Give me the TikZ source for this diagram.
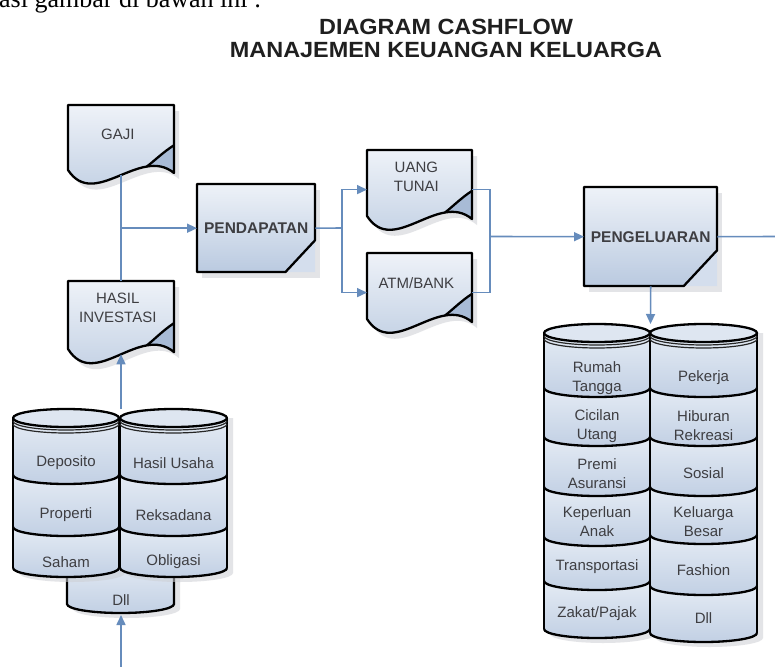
\documentclass[tikz,border=0pt]{standalone}
\usepackage{fontspec}
\setmainfont{Liberation Sans}
\newfontfamily\introfont{Liberation Serif}
\usetikzlibrary{arrows.meta,calc}
\definecolor{connc}{RGB}{102,140,188}
\definecolor{boxtop}{RGB}{238,242,248}
\definecolor{boxbot}{RGB}{186,202,224}
\definecolor{segtop}{RGB}{228,235,244}
\definecolor{segbot}{RGB}{194,208,228}
\definecolor{topc}{RGB}{222,230,241}
\definecolor{foldc}{RGB}{168,187,214}
\definecolor{cornerc}{RGB}{212,222,237}
\definecolor{txtc}{RGB}{62,62,66}
\definecolor{shadc}{RGB}{205,207,212}
\tikzset{
  edge/.style={draw=black, line width=2.3pt, line join=round},
  rim/.style={draw=black!85, line width=1.2pt},
  conn/.style={draw=connc, line width=1.6pt},
  arr/.style={conn, -{Triangle[length=10pt,width=9pt]}},
  lbl/.style={font=\fontsize{15}{19}\selectfont, text=txtc, align=center, inner sep=0pt},
  blbl/.style={font=\fontsize{15.5}{19}\selectfont\bfseries, text=txtc, align=center, inner sep=0pt},
  boxfill/.style={top color=boxtop, bottom color=boxbot},
  segfill/.style={top color=segtop, bottom color=segbot},
  shadowfill/.style={fill=shadc, opacity=0.55},
  titlestyle/.style={font=\fontsize{22}{26}\selectfont\bfseries, text=black!88, inner sep=0pt, anchor=base},
}
\newcommand\docpath{(0,0) -- (1,0) -- (1,-1.046) .. controls (0.68,-0.62) and (0.25,-1.62) .. (0,-1) -- cycle}
\newcommand\docfold{(1,-0.62) .. controls (0.9,-0.72) and (0.8,-0.88) .. (0.744,-0.946) .. controls (0.833,-0.922) and (0.92,-0.94) .. (1,-1.046) -- cycle}
% #1 name, #2 L, #3 T, #4 w, #5 h, #6 text v, #7 text
\newcommand\docshape[7]{%
  \begin{scope}[shift={({#2+5},{-#3-6})}, xscale=#4, yscale=#5]
    \fill[shadowfill] \docpath;
  \end{scope}
  \begin{scope}[shift={(#2,-#3)}, xscale=#4, yscale=#5]
    \shade[boxfill] \docpath;
    \fill[foldc] \docfold;
    \draw[edge] \docpath;
    \draw[edge] (1,-0.62) .. controls (0.9,-0.72) and (0.8,-0.88) .. (0.744,-0.946);
    \node[lbl] (#1) at (0.47,-#6) {#7};
    \coordinate (#1-w) at (0,-0.6);
    \coordinate (#1-e) at (1,-0.6);
    \coordinate (#1-t) at (0.5,0);
    \coordinate (#1-b) at (0.5,-1.078);
  \end{scope}}
% #1 name, #2 L, #3 T, #4 w, #5 h, #6 text
\newcommand\procbox[6]{%
  \fill[shadowfill] ({#2+5},{-#3-6}) rectangle ++(#4,-#5);
  \begin{scope}[shift={(#2,-#3)}, xscale=#4, yscale=#5]
    \shade[boxfill] (0,0) -- (1,0) -- (1,-0.64) -- (0.75,-1) -- (0,-1) -- cycle;
    \fill[cornerc] (1,-0.64) -- (1,-1) -- (0.75,-1) -- cycle;
    \draw[edge] (1,-0.64) -- (1,0) -- (0,0) -- (0,-1) -- (0.75,-1) -- cycle;
  \end{scope}
  \node[blbl, minimum width=#4pt, minimum height=#5pt, anchor=north west] (#1) at (#2,-#3) {#6};}
% #1 x0, #2 x1, #3 yc, #4 bottoms, #5 last bottom
\newcommand\cylcol[5]{%
  \pgfmathsetmacro\crx{(#2-#1)/2}
  \pgfmathsetmacro\ccx{(#2+#1)/2}
  \fill[shadowfill] ({#1+6},{-#3}) -- ({#1+6},{-(#5-9)-5}) arc[start angle=180,end angle=360,x radius=\crx,y radius=9] -- ({#2+6},{-#3}) -- cycle;
  \foreach \b [remember=\b as \bp (initially #3+9)] in {#4} {
    \shade[segfill] ({#1},{-(\bp-9)}) arc[start angle=180,end angle=360,x radius=\crx,y radius=9]
      -- ({#2},{-(\b-9)}) arc[start angle=0,end angle=-180,x radius=\crx,y radius=9] -- cycle;
  }
  \fill[topc] (\ccx,-#3) ellipse[x radius=\crx, y radius=9];
  \foreach \b in {#4} {
    \draw[edge] ({#1},{-(\b-9)}) arc[start angle=180,end angle=360,x radius=\crx,y radius=9];
  }
  \draw[edge] ({#1},{-#3}) -- ({#1},{-(#5-9)});
  \draw[edge] ({#2},{-#3}) -- ({#2},{-(#5-9)});
  \draw[edge] (\ccx,-#3) ellipse[x radius=\crx, y radius=9];
  \draw[rim] ({#1},{-(#3+3)}) arc[start angle=180,end angle=360,x radius=\crx,y radius=9];
  \draw[rim] ({#1},{-(#3+6)}) arc[start angle=180,end angle=360,x radius=\crx,y radius=9];
}
\begin{document}
\begin{tikzpicture}[x=1pt,y=1pt]
\useasboundingbox (0,0) rectangle (775,-666);
\clip (0,0) rectangle (775,-666);
\fill[white] (0,0) rectangle (775,-666);

% intro text (cut off at the top)
\node[anchor=base west, inner sep=0pt, font=\introfont\fontsize{26}{30}\selectfont] (intro) at (-1,-8) {asi gambar di bawah ini :};

% title
\node[titlestyle] (title1) at (446,-35) {\scalebox{1.065}[1]{DIAGRAM CASHFLOW}};
\node[titlestyle] (title2) at (446,-58) {\scalebox{1.065}[1]{MANAJEMEN KEUANGAN KELUARGA}};

% documents
\docshape{gaji}{68}{105}{106}{65}{0.45}{GAJI}
\docshape{hasil}{68}{281}{106}{68}{0.40}{HASIL\\INVESTASI}
\docshape{uang}{367}{150}{105}{66}{0.41}{UANG\\TUNAI}
\docshape{atm}{367}{253}{105}{66}{0.45}{ATM/BANK}

% process boxes
\procbox{pend}{197}{184}{118}{88}{PENDAPATAN}
\procbox{peng}{584}{187}{133}{99}{PENGELUARAN}

% left cylinders
\fill[shadowfill] (73,-565) -- (73,-609) arc[start angle=180,end angle=360,x radius=53.5,y radius=9] -- (180,-565) -- cycle;
\shade[segfill] (67,-560) -- (67,-604) arc[start angle=180,end angle=360,x radius=53.5,y radius=9] -- (174,-560) -- cycle;
\draw[edge] (67,-560) -- (67,-604) arc[start angle=180,end angle=360,x radius=53.5,y radius=9] -- (174,-560);
\cylcol{13}{119}{418}{484,536,577}{577}
\cylcol{120}{227}{418}{484,536,577}{577}
\coordinate (lcyl) at (121,-409);
\coordinate (ldll) at (121,-615);
\coordinate (lbot) at (121,-670);

\node[lbl] (deposito) at (66,-463) {Deposito};
\node[lbl] (hasilusaha) at (173.5,-463) {Hasil Usaha};
\node[lbl] (properti) at (66,-515) {Properti};
\node[lbl] (reksadana) at (173.5,-515) {Reksadana};
\node[lbl] (saham) at (66,-562) {Saham};
\node[lbl] (obligasi) at (173.5,-562) {Obligasi};
\node[lbl] (dll1) at (121,-600) {Dll};

% right cylinders
\cylcol{544}{650}{333}{397,446,496,546,590,638}{638}
\cylcol{650}{757}{333}{397,446,496,544,595,642}{642}
\coordinate (rcyl) at (650.5,-324);

\node[lbl] (rumah) at (597,-378) {Rumah\\Tangga};
\node[lbl] (cicilan) at (597,-426) {Cicilan\\Utang};
\node[lbl] (premi) at (597,-474) {Premi\\Asuransi};
\node[lbl] (keperluan) at (597,-522) {Keperluan\\Anak};
\node[lbl] (transportasi) at (597,-567) {Transportasi};
\node[lbl] (zakat) at (597,-614) {Zakat/Pajak};
\node[lbl] (pekerja) at (703.5,-378) {Pekerja};
\node[lbl] (hiburan) at (703.5,-426) {Hiburan\\Rekreasi};
\node[lbl] (sosial) at (703.5,-473) {Sosial};
\node[lbl] (keluarga) at (703.5,-522) {Keluarga\\Besar};
\node[lbl] (fashion) at (703.5,-570) {Fashion};
\node[lbl] (dll2) at (703.5,-618) {Dll};

% connectors
\coordinate (split) at (342,-228);
\coordinate (merge) at (490,-236.5);
\coordinate (rend) at (777,-236.5);
\draw[conn] (gaji-b) -- (hasil-t);
\draw[arr] (gaji-b |- pend.west) -- (pend.west);
\draw[arr] (lcyl) -- (hasil-b);
\draw[arr] (lbot) -- (ldll);
\draw[conn] (pend.east) -- (split);
\draw[arr] (split) |- (uang-w);
\draw[arr] (split) |- (atm-w);
\draw[conn] (uang-e) -| (merge);
\draw[conn] (atm-e) -| (merge);
\draw[arr] (merge) -- (peng.west);
\draw[conn] (peng.east) -- (rend);
\draw[arr] (peng.south) -- (rcyl);
\end{tikzpicture}
\end{document}
